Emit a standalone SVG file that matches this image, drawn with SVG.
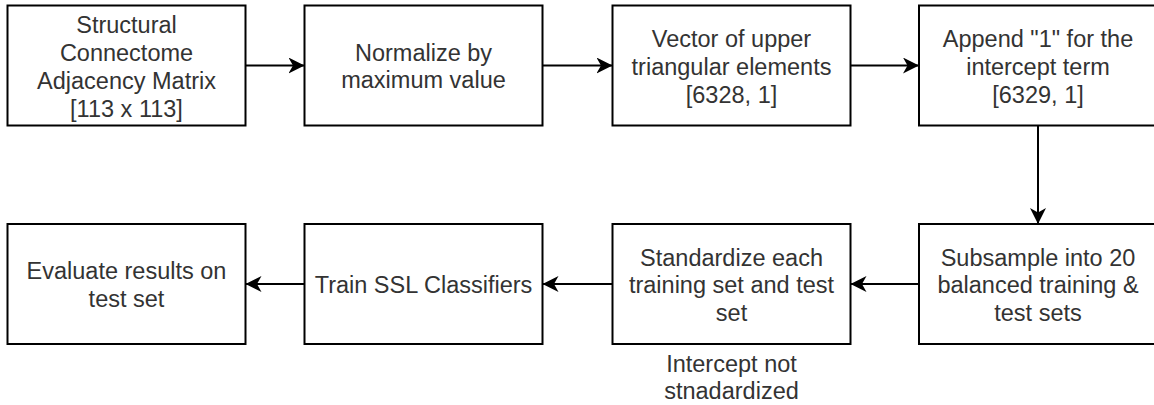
<svg xmlns="http://www.w3.org/2000/svg" width="1154" height="405" viewBox="0 0 1154 405">
  <style>
    .box { fill: #ffffff; stroke: #000000; stroke-width: 2; }
    .lbl { font-family: "Liberation Sans", Arial, Helvetica, sans-serif; font-size: 23.5px; fill: #333333; text-anchor: middle; }
    .edge { fill: none; stroke: #000000; stroke-width: 2; marker-end: url(#arrow); }
  </style>
  <defs>
    <marker id="arrow" viewBox="0 0 16 16" refX="16" refY="8" markerWidth="16" markerHeight="16" markerUnits="userSpaceOnUse" orient="auto">
      <path d="M16,8 L0,0 L4.5,8 L0,16 Z" fill="#000000"/>
    </marker>
  </defs>
  <rect width="1154" height="405" fill="#ffffff"/>

  <g id="connectors">
    <line class="edge" x1="245.5" y1="65.5" x2="304.5" y2="65.5"/>
    <line class="edge" x1="542.5" y1="65.5" x2="612.5" y2="65.5"/>
    <line class="edge" x1="850.5" y1="65.5" x2="919" y2="65.5"/>
    <line class="edge" x1="1038" y1="125.5" x2="1038" y2="224"/>
    <line class="edge" x1="919" y1="284" x2="850.5" y2="284"/>
    <line class="edge" x1="612.5" y1="284" x2="542.5" y2="284"/>
    <line class="edge" x1="304.5" y1="284" x2="245.5" y2="284"/>
  </g>

  <g id="node-structural">
    <rect class="box" x="7.5" y="5.5" width="238" height="120"/>
    <text class="lbl" x="126.5" y="33.4">Structural</text>
    <text class="lbl" x="126.5" y="61.2">Connectome</text>
    <text class="lbl" x="126.5" y="89">Adjacency Matrix</text>
    <text class="lbl" x="126.5" y="116.8">[113 x 113]</text>
  </g>

  <g id="node-normalize">
    <rect class="box" x="304.5" y="5.5" width="238" height="120"/>
    <text class="lbl" x="423.5" y="60.6">Normalize by</text>
    <text class="lbl" x="423.5" y="88.4">maximum value</text>
  </g>

  <g id="node-vector">
    <rect class="box" x="612.5" y="5.5" width="238" height="120"/>
    <text class="lbl" x="731.5" y="47">Vector of upper</text>
    <text class="lbl" x="731.5" y="74.8">triangular elements</text>
    <text class="lbl" x="731.5" y="102.6">[6328, 1]</text>
  </g>

  <g id="node-append">
    <rect class="box" x="919" y="5.5" width="238" height="120"/>
    <text class="lbl" x="1038" y="47">Append "1" for the</text>
    <text class="lbl" x="1038" y="74.8">intercept term</text>
    <text class="lbl" x="1038" y="102.6">[6329, 1]</text>
  </g>

  <g id="node-subsample">
    <rect class="box" x="919" y="224" width="238" height="120"/>
    <text class="lbl" x="1038" y="265.5">Subsample into 20</text>
    <text class="lbl" x="1038" y="293.3">balanced training &amp;</text>
    <text class="lbl" x="1038" y="321.1">test sets</text>
  </g>

  <g id="node-standardize">
    <rect class="box" x="612.5" y="224" width="238" height="120"/>
    <text class="lbl" x="731.5" y="265.5">Standardize each</text>
    <text class="lbl" x="731.5" y="293.3">training set and test</text>
    <text class="lbl" x="731.5" y="321.1">set</text>
  </g>

  <g id="note-intercept">
    <text class="lbl" x="731.5" y="371.5">Intercept not</text>
    <text class="lbl" x="731.5" y="399.2">stnadardized</text>
  </g>

  <g id="node-train">
    <rect class="box" x="304.5" y="224" width="238" height="120"/>
    <text class="lbl" x="423.5" y="293.3">Train SSL Classifiers</text>
  </g>

  <g id="node-evaluate">
    <rect class="box" x="7.5" y="224" width="238" height="120"/>
    <text class="lbl" x="126.5" y="279.1">Evaluate results on</text>
    <text class="lbl" x="126.5" y="306.9">test set</text>
  </g>
</svg>
